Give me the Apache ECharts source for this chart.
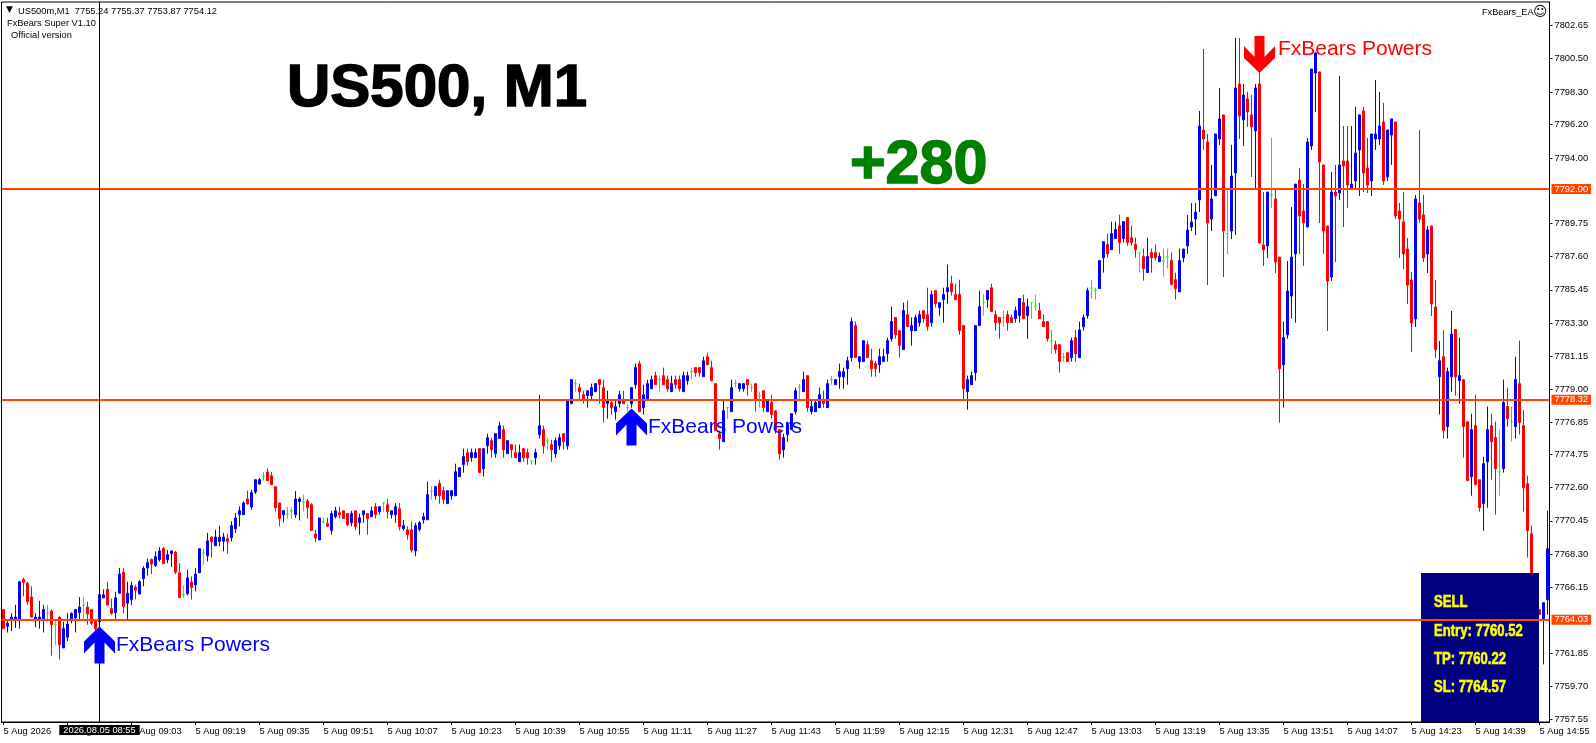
<!DOCTYPE html>
<html><head><meta charset="utf-8">
<style>html,body{margin:0;padding:0;background:#fff}#c{width:1596px;height:743px}</style>
<script src="https://cdn.jsdelivr.net/npm/echarts@6/dist/echarts.min.js"></script>
</head><body><div id="c"></div>
<script>
const opens=[
7764.7,7763.6,7764.05,7764.05,7764.05,7766.65,7766.4,7765.5,7764.05,7764.05,
7764.1,7764.45,7764.6,7763.7,7764.2,7762.2,7762.9,7764.05,7764.15,7764.5,
7764.98,7764.85,7764.7,7764.05,7763.9,7765.45,7766.0,7764.75,7764.5,7765.75,
7767.1,7765.1,7765.35,7766.15,7765.7,7766.7,7767.4,7767.95,7767.55,7767.93,
7768.65,7767.93,7768.32,7768.4,7767.08,7765.65,7765.72,7766.48,7766.3,7767.08,
7768.36,7768.18,7769.4,7768.84,7769.12,7769.12,7769.29,7769.36,7769.94,7770.85,
7770.85,7771.87,7771.35,7772.32,7772.84,7773.34,7773.62,7773.38,7772.67,7771.61,
7770.85,7770.89,7771.11,7770.85,7771.7,7771.65,7771.74,7771.5,7769.6,7769.21,
7770.37,7770.27,7769.83,7770.72,7770.98,7771.1,7770.92,7770.33,7771.1,7770.33,
7770.85,7770.92,7770.72,7771.37,7771.05,7771.63,7771.5,7770.85,7770.85,7771.24,
7769.94,7769.87,7769.87,7768.5,7769.9,7770.52,7770.52,7772.37,7772.08,7772.87,
7772.41,7771.57,7772.08,7772.08,7773.32,7774.1,7774.88,7774.55,7774.55,7775.14,
7773.84,7775.33,7775.66,7774.81,7775.79,7776.37,7774.81,7775.4,7774.88,7774.29,
7775.14,7774.88,7774.34,7774.55,7776.05,7776.37,7775.66,7775.4,7774.81,7775.33,
7776.11,7775.33,7778.06,7779.36,7779.1,7778.64,7778.58,7778.58,7778.84,7779.62,
7779.1,7778.06,7778.13,7777.54,7778.06,7778.32,7777.8,7778.06,7779.29,7780.66,
7777.8,7778.38,7779.03,7779.88,7779.62,7779.88,7779.62,7778.84,7779.62,7779.62,
7778.84,7779.55,7780.14,7780.4,7780.4,7779.81,7781.11,7780.4,7779.36,7776.11,
7775.59,7777.8,7777.54,7779.36,7779.03,7779.03,7779.62,7779.1,7779.36,7778.58,
7778.9,7777.54,7778.13,7777.6,7776.37,7775.07,7776.05,7776.37,7777.54,7779.1,
7778.84,7779.88,7777.54,7777.54,7777.8,7778.32,7777.8,7779.62,7779.29,7779.81,
7779.81,7780.33,7781.05,7783.13,7780.79,7780.79,7781.89,7780.85,7780.66,7780.59,
7780.79,7781.31,7782.28,7783.65,7782.8,7781.57,7783.84,7782.8,7782.8,7783.32,
7784.1,7783.84,7783.32,7785.4,7784.3,7784.82,7785.33,7785.85,7785.14,7785.14,
7783.13,7778.84,7779.29,7780.07,7783.13,7784.62,7784.82,7785.59,7783.84,7783.65,
7783.65,7783.84,7783.65,7783.58,7783.78,7784.62,7783.78,7784.62,7784.36,7784.1,
7783.39,7783.39,7782.13,7781.89,7781.89,7781.09,7781.37,7781.05,7782.35,7781.05,
7783.06,7783.78,7785.57,7785.4,7785.53,7787.54,7788.39,7788.06,7788.78,7789.62,
7788.78,7790.14,7788.84,7788.39,7787.85,7787.61,7786.57,7787.87,7787.87,7787.28,
7787.33,7787.59,7787.35,7786.11,7785.33,7787.52,7788.3,7789.53,7790.05,7791.29,
7795.83,7795.05,7790.05,7791.55,7795.25,7796.81,7789.08,7789.27,7793.04,7798.82,
7796.48,7797.85,7796.81,7795.77,7798.82,7788.36,7788.3,7791.61,7791.35,7787.58,
7780.59,7782.54,7785.05,7787.78,7792.58,7790.57,7789.53,7794.79,7799.53,7799.6,
7793.56,7789.6,7786.28,7791.8,7791.74,7793.82,7793.82,7792.06,7792.52,7794.53,
7797.07,7793.36,7792.52,7795.25,7795.25,7796.35,7792.78,7795.5,7796.35,7790.57,
7789.86,7788.1,7786.09,7783.56,7791.09,7790.31,7787.78,7789.6,7784.34,7779.81,
7781.11,7776.57,7779.81,7782.87,7779.55,7779.62,7776.89,7773.32,7776.63,7773.12,
7771.57,7774.29,7776.63,7775.85,7773.62,7773.84,7777.87,7776.87,7776.57,7779.36,
7776.63,7772.86,7769.62,7765.9,7764.68,7764.03,7765.33];
const highs=[
7764.7,7764.0,7764.45,7765.0,7766.5,7766.75,7766.5,7766.2,7764.45,7765.25,
7765.0,7765.0,7764.7,7764.0,7764.25,7763.9,7764.45,7764.5,7764.7,7765.5,
7765.5,7765.2,7764.7,7764.05,7766.1,7766.0,7766.5,7765.4,7765.85,7767.4,
7767.4,7766.5,7766.5,7766.3,7766.6,7767.5,7768.0,7768.0,7768.47,7768.75,
7768.75,7768.55,7768.5,7768.5,7767.7,7766.25,7767.28,7766.85,7767.38,7768.64,
7768.64,7769.66,7769.44,7769.88,7770.14,7769.66,7769.62,7770.42,7770.96,7771.39,
7771.72,7772.41,7772.47,7773.12,7773.23,7773.62,7773.88,7773.62,7772.67,7771.61,
7771.11,7771.35,7771.35,7772.39,7772.0,7772.15,7771.87,7771.6,7769.86,7770.64,
7770.65,7770.65,7771.1,7771.37,7771.37,7771.1,7770.92,7771.1,7771.1,7770.92,
7771.1,7770.92,7771.37,7771.6,7771.37,7771.63,7771.87,7771.1,7771.6,7771.6,
7770.5,7770.1,7770.4,7770.33,7770.45,7770.98,7773.0,7772.7,7772.67,7773.12,
7772.67,7772.41,7772.41,7774.16,7773.9,7775.14,7775.14,7775.14,7775.14,7775.14,
7775.14,7776.11,7775.85,7776.11,7776.89,7776.63,7775.66,7775.4,7775.4,7775.4,
7775.14,7775.14,7774.34,7775.14,7778.64,7776.63,7775.85,7775.72,7775.85,7776.11,
7776.11,7778.36,7779.62,7779.62,7779.36,7778.9,7778.9,7779.36,7779.36,7779.62,
7779.62,7778.9,7778.32,7778.32,7778.9,7778.9,7778.06,7779.1,7780.66,7780.85,
7779.29,7779.62,7779.88,7780.14,7779.88,7780.4,7779.88,7779.88,7779.88,7779.88,
7780.14,7780.14,7780.4,7780.4,7780.4,7781.11,7781.37,7780.85,7779.36,7776.31,
7778.32,7777.8,7779.62,7779.62,7779.36,7779.36,7779.62,7779.36,7779.36,7778.84,
7778.9,7778.32,7778.64,7777.6,7776.37,7776.11,7776.89,7777.41,7779.1,7779.36,
7780.14,7779.88,7778.32,7778.32,7779.1,7778.9,7779.62,7779.88,7779.62,7780.66,
7780.4,7781.11,7783.65,7783.39,7781.11,7782.15,7782.15,7781.63,7780.85,7781.63,
7781.63,7782.35,7784.36,7783.65,7782.8,7784.62,7784.75,7783.65,7783.84,7784.1,
7784.1,7785.59,7785.4,7785.4,7784.62,7785.59,7787.09,7786.37,7785.85,7786.11,
7783.13,7779.88,7780.14,7783.13,7785.4,7785.14,7785.4,7785.85,7784.1,7783.65,
7784.1,7784.1,7783.84,7784.36,7784.88,7785.14,7784.88,7784.62,7785.14,7784.62,
7783.84,7783.39,7782.85,7782.15,7781.89,7781.35,7781.37,7782.35,7782.85,7783.39,
7783.84,7785.59,7786.11,7785.59,7787.35,7788.58,7789.1,7789.88,7789.88,7790.33,
7789.88,7790.14,7789.62,7788.84,7787.85,7788.13,7788.84,7788.13,7788.39,7787.87,
7788.13,7788.13,7787.87,7786.57,7788.13,7788.1,7790.31,7791.09,7791.09,7797.07,
7801.09,7795.57,7793.56,7795.57,7798.56,7796.81,7792.0,7794.86,7801.81,7801.81,
7798.82,7798.3,7798.1,7798.82,7799.51,7791.8,7791.8,7795.31,7792.0,7787.58,
7783.39,7787.32,7790.83,7792.32,7793.36,7792.32,7795.31,7799.79,7800.9,7799.6,
7793.56,7789.6,7793.1,7793.56,7799.34,7796.09,7796.09,7796.09,7797.33,7796.81,
7797.33,7795.31,7795.57,7799.08,7798.3,7797.59,7795.83,7796.55,7796.35,7791.09,
7791.8,7788.82,7786.61,7791.61,7795.83,7791.61,7789.6,7789.6,7786.09,7782.13,
7782.84,7780.4,7784.08,7782.87,7782.35,7779.62,7776.89,7777.41,7778.64,7773.12,
7774.62,7777.87,7777.41,7776.89,7776.37,7779.62,7779.1,7777.87,7781.11,7782.15,
7777.63,7773.38,7770.14,7766.0,7764.68,7765.14,7771.11];
const lows=[
7763.45,7763.2,7763.3,7763.5,7763.45,7765.55,7765.0,7764.2,7763.55,7763.45,
7763.2,7764.05,7761.7,7762.4,7761.45,7762.2,7762.65,7763.8,7763.2,7764.05,
7764.05,7763.7,7763.7,7763.2,7763.5,7765.45,7764.98,7764.35,7764.1,7765.75,
7764.45,7764.05,7764.98,7765.35,7765.7,7766.2,7766.9,7767.0,7767.45,7767.8,
7767.67,7767.7,7767.45,7767.0,7765.48,7765.45,7765.6,7765.33,7765.87,7767.06,
7767.6,7767.82,7768.08,7768.84,7768.8,7768.47,7768.32,7769.12,7769.66,7770.09,
7770.85,7771.5,7771.17,7772.19,7772.8,7773.06,7773.06,7772.8,7771.07,7770.09,
7770.35,7770.59,7770.59,7770.63,7770.48,7771.07,7770.6,7769.83,7769.08,7769.21,
7770.3,7770.05,7769.55,7770.6,7770.6,7770.6,7770.1,7770.1,7769.83,7769.55,
7770.33,7769.55,7770.72,7770.6,7770.85,7771.05,7770.6,7770.6,7770.33,7769.83,
7769.83,7769.23,7768.4,7768.15,7769.75,7770.27,7770.52,7771.83,7771.83,7771.57,
7771.57,7771.57,7771.83,7772.08,7773.32,7773.58,7774.03,7774.29,7774.55,7773.58,
7773.32,7774.81,7774.55,7774.55,7775.79,7774.55,7774.81,7774.55,7774.55,7774.29,
7774.29,7774.1,7774.1,7774.1,7775.79,7774.81,7775.07,7774.29,7774.55,7775.07,
7775.07,7775.07,7778.06,7778.84,7778.32,7778.06,7777.8,7778.32,7778.84,7778.06,
7776.83,7777.09,7777.35,7777.02,7777.8,7778.06,7777.54,7777.8,7779.03,7777.54,
7777.35,7778.38,7779.03,7779.29,7778.84,7779.29,7778.84,7778.84,7779.03,7778.84,
7778.84,7779.29,7779.62,7779.81,7779.81,7779.81,7780.59,7779.55,7776.31,7775.07,
7775.59,7777.09,7777.54,7779.1,7778.84,7778.84,7778.58,7778.84,7777.54,7777.8,
7777.54,7777.54,7777.09,7776.11,7774.42,7774.55,7775.59,7776.37,7777.35,7778.38,
7778.84,7777.54,7777.35,7777.54,7777.8,7777.8,7777.8,7779.29,7779.29,7779.03,
7779.03,7779.29,7780.79,7781.05,7780.33,7780.79,7781.05,7779.81,7779.81,7780.07,
7780.79,7780.79,7782.09,7782.28,7781.05,7781.57,7783.06,7781.83,7782.8,7783.06,
7783.32,7782.8,7783.06,7784.3,7783.78,7783.32,7784.56,7785.08,7784.82,7782.54,
7778.32,7777.67,7779.29,7779.55,7783.13,7783.78,7784.3,7784.04,7782.8,7782.28,
7783.06,7782.8,7783.32,7783.32,7783.32,7783.58,7782.28,7783.58,7784.1,7783.58,
7783.06,7782.09,7781.3,7781.3,7780.07,7780.79,7780.79,7780.79,7780.79,7781.05,
7782.8,7783.58,7784.88,7784.82,7785.53,7786.57,7787.54,7788.06,7788.78,7787.8,
7788.52,7788.32,7788.32,7787.54,7786.57,7786.05,7786.57,7786.57,7787.35,7787.28,
7786.31,7786.83,7785.79,7784.82,7785.33,7787.24,7787.78,7789.27,7789.0,7790.5,
7794.53,7785.76,7789.27,7791.55,7794.86,7786.28,7787.78,7788.75,7789.01,7795.25,
7794.79,7796.03,7792.78,7792.0,7788.49,7787.0,7787.52,7790.77,7786.54,7776.83,
7777.8,7782.28,7783.58,7783.32,7787.78,7787.0,7789.53,7794.53,7797.0,7789.79,
7787.78,7782.78,7786.02,7787.26,7791.29,7789.53,7790.77,7792.06,7791.94,7791.55,
7791.8,7791.74,7791.55,7794.53,7794.86,7792.26,7792.52,7793.56,7790.05,7787.52,
7786.8,7784.53,7781.4,7783.04,7789.79,7787.26,7786.54,7783.75,7781.03,7777.35,
7775.79,7775.79,7778.84,7778.58,7778.06,7774.55,7773.06,7772.08,7772.8,7771.05,
7769.81,7771.31,7773.12,7770.85,7772.08,7773.58,7776.57,7775.59,7775.79,7776.05,
7771.05,7768.06,7765.8,7764.8,7764.36,7761.13,7764.36];
const closes=[
7763.45,7763.8,7764.2,7764.2,7766.5,7766.45,7765.2,7764.2,7764.2,7764.2,
7764.7,7764.45,7763.7,7763.7,7762.4,7763.45,7763.75,7764.45,7764.7,7764.85,
7764.98,7764.4,7763.8,7763.45,7765.65,7765.65,7764.98,7764.45,7765.45,7767.0,
7764.9,7765.75,7766.25,7765.95,7766.5,7767.36,7767.73,7767.65,7768.12,7768.5,
7767.67,7768.25,7768.5,7767.12,7765.48,7765.65,7766.75,7766.13,7767.0,7768.64,
7768.36,7769.15,7769.1,7769.4,7769.4,7769.4,7769.12,7770.14,7770.63,7771.11,
7771.61,7771.56,7772.28,7773.12,7773.12,7773.34,7773.06,7772.8,7771.3,7770.59,
7771.11,7770.89,7771.11,7771.87,7771.87,7771.65,7771.33,7769.83,7769.34,7770.64,
7770.37,7770.1,7770.92,7771.1,7770.85,7770.6,7770.2,7770.92,7770.07,7770.65,
7771.1,7770.6,7771.1,7770.85,7771.37,7771.63,7771.05,7771.1,7771.37,7770.07,
7770.14,7769.55,7768.55,7770.14,7770.33,7770.72,7772.15,7772.37,7772.67,7772.08,
7771.83,7772.41,7772.41,7773.64,7773.9,7774.62,7774.29,7774.88,7774.88,7773.58,
7775.14,7775.85,7775.07,7776.11,7776.63,7775.07,7775.66,7775.07,7774.55,7774.88,
7774.55,7774.55,7774.34,7774.88,7776.63,7775.33,7775.66,7775.07,7775.66,7775.85,
7775.59,7778.32,7779.62,7779.36,7778.84,7778.32,7778.9,7779.1,7779.36,7779.3,
7777.8,7778.32,7777.8,7777.87,7778.64,7778.06,7777.8,7779.1,7780.4,7777.54,
7778.64,7779.36,7779.62,7779.29,7779.62,7779.29,7779.03,7779.36,7779.29,7779.03,
7779.88,7779.88,7780.14,7780.07,7780.07,7780.85,7780.59,7779.55,7776.31,7775.79,
7777.6,7777.8,7779.1,7779.36,7779.36,7779.36,7779.29,7779.1,7778.32,7778.58,
7777.8,7778.32,7777.35,7776.37,7774.81,7775.85,7776.7,7777.41,7778.9,7779.1,
7779.62,7777.8,7777.87,7778.13,7778.64,7778.06,7779.36,7779.62,7779.62,7780.14,
7780.14,7780.85,7783.39,7781.05,7781.11,7782.15,7781.05,7780.33,7780.33,7781.11,
7781.11,7782.15,7783.39,7782.54,7781.85,7784.1,7783.06,7783.13,7783.65,7783.84,
7783.58,7783.06,7785.14,7784.56,7784.62,7785.14,7785.59,7785.33,7784.82,7782.8,
7779.03,7779.62,7779.88,7783.13,7784.36,7784.62,7785.4,7784.04,7783.32,7783.32,
7783.65,7783.32,7783.32,7784.1,7784.88,7783.58,7784.36,7784.62,7784.36,7783.58,
7783.06,7782.28,7782.13,7781.57,7780.79,7781.09,7780.79,7782.15,7781.31,7782.85,
7783.65,7785.4,7785.57,7785.4,7787.35,7788.58,7787.8,7789.1,7789.36,7788.52,
7789.88,7788.52,7788.52,7788.06,7787.85,7786.83,7787.61,7787.54,7787.54,7787.61,
7787.33,7787.59,7785.79,7785.53,7787.35,7788.1,7789.34,7789.86,7790.5,7796.09,
7795.25,7789.79,7791.35,7795.57,7796.55,7789.27,7789.08,7792.84,7798.56,7796.74,
7798.1,7797.0,7796.03,7798.56,7788.49,7788.04,7791.8,7791.61,7787.26,7780.33,
7782.35,7785.37,7787.58,7792.32,7790.25,7789.79,7795.05,7799.79,7800.83,7793.75,
7789.27,7786.02,7791.8,7791.55,7793.56,7793.49,7792.26,7792.32,7794.34,7796.81,
7793.04,7792.26,7795.57,7795.57,7796.09,7792.52,7795.83,7796.55,7790.25,7790.05,
7787.78,7785.76,7783.3,7791.35,7790.05,7787.52,7789.34,7784.53,7781.57,7780.85,
7776.31,7780.14,7782.58,7779.81,7779.88,7776.57,7773.06,7776.37,7772.8,7771.31,
7774.16,7776.37,7775.59,7773.84,7773.62,7778.13,7777.09,7776.87,7779.62,7776.83,
7772.6,7769.81,7766.0,7765.0,7764.36,7765.14,7768.64];

const xTickLabels=['5 Aug 2026','5 Aug 08:47','5 Aug 09:03','5 Aug 09:19','5 Aug 09:35','5 Aug 09:51','5 Aug 10:07','5 Aug 10:23','5 Aug 10:39','5 Aug 10:55','5 Aug 11:11','5 Aug 11:27','5 Aug 11:43','5 Aug 11:59','5 Aug 12:15','5 Aug 12:31','5 Aug 12:47','5 Aug 13:03','5 Aug 13:19','5 Aug 13:35','5 Aug 13:51','5 Aug 14:07','5 Aug 14:23','5 Aug 14:39','5 Aug 14:55'];
const yTicks=[7757.55,7759.70,7761.85,7766.15,7768.30,7770.45,7772.60,7774.75,7776.85,7779.00,7781.15,7783.30,7785.45,7787.60,7789.75,7794.00,7796.20,7798.30,7800.50,7802.65];
const levels=[7792.00,7778.32,7764.03];
const crossIndex=24;
const crossLabel='2026.08.05 08:55';
const arrowsUp=[[24,7762.39],[157,7776.55]];
const arrowsDown=[[314,7800.73]];
const signalText='FxBears Powers';
const sellLines=['SELL','Entry: 7760.52','TP: 7760.22','SL: 7764.57'];

const cats=opens.map((_,i)=>String(i));
const ohlc=opens.map((o,i)=>[o,closes[i],lows[i],highs[i]]);
const arrowPath='path://M15.5,0 L31,15 L31,27 L20.5,16 L20.5,37 L10.5,37 L10.5,16 L0,27 L0,15 Z';
const sans='"Liberation Sans",Arial,sans-serif';
const small=9.3;
const chart=echarts.init(document.getElementById('c'),null,{renderer:'canvas'});

function txt(text,x,y,font,fill,extra){
  return {type:'text',z:6,silent:true,style:Object.assign({text,x,y,font,fill,textVerticalAlign:'middle'},extra||{})};
}
function sell(text,y){
  return {type:'text',z:6,silent:true,x:1434,y:y,scaleX:0.77,scaleY:1,
    style:{text,x:0,y:0,font:'bold 17px '+sans,fill:'#ffff00',stroke:'#ffff00',lineWidth:0.6,textVerticalAlign:'middle'}};
}
chart.setOption({
  animation:false,
  backgroundColor:'#fff',
  grid:{left:1.5,top:2,width:1548,height:720,show:true,borderColor:'#000',borderWidth:1,backgroundColor:'#fff'},
  xAxis:{type:'category',data:cats,boundaryGap:true,
    axisLine:{show:true,lineStyle:{color:'#000',width:1}},
    axisTick:{show:true,interval:15,alignWithLabel:true,length:3,lineStyle:{color:'#000'}},
    axisLabel:{interval:15,align:'left',margin:5,fontFamily:sans,fontSize:small,color:'#000',hideOverlap:false,
      formatter:(v,i)=>xTickLabels[i/16]||''},
    splitLine:{show:false}},
  yAxis:{type:'value',position:'right',min:7757.39,max:7804.14,scale:true,
    axisLine:{show:true,lineStyle:{color:'#000',width:1}},
    axisTick:{show:true,length:3,lineStyle:{color:'#000'},customValues:yTicks},
    axisLabel:{margin:5,fontFamily:sans,fontSize:small,color:'#000',customValues:yTicks,formatter:v=>v.toFixed(2)},
    splitLine:{show:false}},
  series:[{type:'candlestick',data:ohlc,barWidth:3,clip:true,z:2,
    itemStyle:{color:'#0000ff',borderColor:'#0000ff',color0:'#ff0000',borderColor0:'#ff0000',borderColorDoji:'#00ff00',borderWidth:1},
    markLine:{silent:true,symbol:'none',animation:false,precision:2,z:5,
      lineStyle:{color:'#ff4500',width:2,type:'solid'},
      label:{show:true,position:'end',distance:2,backgroundColor:'#ff4500',color:'#fff',fontFamily:sans,fontSize:small,padding:[1,3,0,3]},
      data:levels.map(v=>({yAxis:v,label:{formatter:v.toFixed(2)}})).concat([{xAxis:crossIndex,
        lineStyle:{color:'#000',width:1,type:'solid'},
        label:{formatter:crossLabel,position:'start',distance:3,backgroundColor:'#000',color:'#fff',fontFamily:sans,fontSize:small,padding:[1,4,0,4]}}])},
    markPoint:{silent:true,animation:false,z:6,symbol:arrowPath,symbolSize:[31,37],
      label:{show:true,position:'right',distance:1,fontFamily:sans,fontSize:21,formatter:signalText},
      data:arrowsUp.map(c=>({coord:c,itemStyle:{color:'#0000ff'},label:{color:'#0000ff'}})).concat(
        arrowsDown.map(c=>({coord:c,symbolRotate:180,itemStyle:{color:'#ff0000'},label:{color:'#ff0000',offset:[2,-5]}})))}
  }],
  graphic:[
    {type:'rect',z:3,silent:true,shape:{x:1421,y:573,width:118,height:149},style:{fill:'#000080'}},
    sell(sellLines[0],602),sell(sellLines[1],631),sell(sellLines[2],659),sell(sellLines[3],687),
    txt('US500, M1',287,89,'bold 60px '+sans,'#000',{stroke:'#000',lineWidth:1.5}),
    txt('+280',850,166,'bold 61px '+sans,'#008000',{stroke:'#008000',lineWidth:1.5}),
    txt('▼',6,10,'9px "DejaVu Sans"','#000'),
    txt('US500m,M1  7755.24 7755.37 7753.87 7754.12',18,11,small+'px '+sans,'#000'),
    txt('FxBears Super V1.10',7,23,small+'px '+sans,'#000'),
    txt('Official version',11,35,small+'px '+sans,'#000'),
    txt('FxBears_EA',1482,12,'9.2px '+sans,'#000'),
    txt('☺',1533,12,'14px "DejaVu Sans"','#000')
  ]
});
</script></body></html>
